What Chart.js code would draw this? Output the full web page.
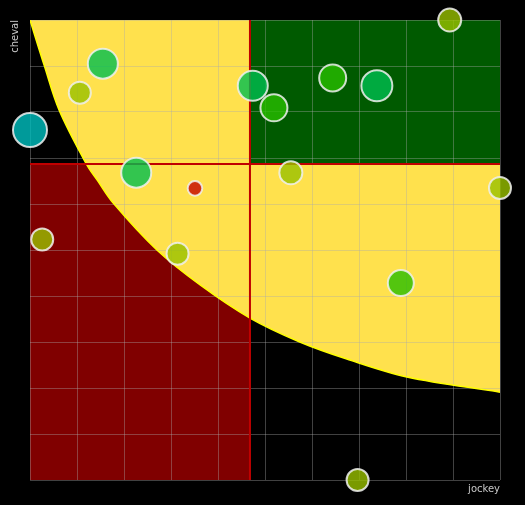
<!DOCTYPE html>
<html><head><meta charset="utf-8">
<script src="https://cdn.jsdelivr.net/npm/chart.js@4/dist/chart.umd.min.js"></script>
<style>html,body{margin:0;padding:0;background:#000;}canvas{display:block;background:#000;}</style>
</head><body>
<canvas id="c" width="525" height="505"></canvas>
<script>
// ---- data ----
const jockeyScores = [0, 1.55, 1.06, 2.26, 3.51, 3.14, 0.26, 4.74, 5.19, 6.44, 7.38, 8.93, 5.55, 10, 7.89, 6.97];
const chevalScores = [7.61, 9.05, 8.42, 6.68, 6.34, 4.92, 5.23, 8.57, 8.09, 8.74, 8.57, 10, 6.68, 6.35, 4.28, 0];
const bubbleSizes  = [17, 15, 11, 15, 7.3, 11, 11, 15, 13.5, 13.5, 15.5, 11.5, 11.5, 11, 13, 11];
const pointGroups  = ['teal','green','olive','green','red','olive','olive','green','lime','lime','green','olive','olive','olive','lime','olive'];

const curveJockey = [0, 0.30, 0.62, 1.21, 1.43, 1.77, 2.70, 3.62, 4.68, 5.74, 6.74, 8.02, 10];
const curveCheval = [10, 9.02, 8.04, 6.85, 6.52, 6.02, 5.00, 4.24, 3.52, 3.00, 2.63, 2.24, 1.91];

const thresholdJockey = 4.68;
const thresholdCheval = 6.87;
const axisMin = 0, axisMax = 10;

// ---- styles ----
const groupColors = {
  teal:  'rgba(0,192,192,0.8)',
  green: 'rgba(0,190,80,0.8)',
  lime:  'rgba(40,190,0,0.8)',
  olive: 'rgba(153,193,0,0.8)',
  red:   'rgba(196,4,0,0.8)'
};
const gridColor = 'rgba(170,170,170,0.38)';
const titleFont = {family: 'DejaVu Sans', size: 10};

const bubbles = jockeyScores.map((x, i) => ({x: x, y: chevalScores[i], r: bubbleSizes[i]}));
const curve = curveJockey.map((x, i) => ({x: x, y: curveCheval[i]}));

new Chart(document.getElementById('c'), {
  type: 'scatter',
  data: {
    datasets: [
      { type: 'bubble', data: bubbles, order: 0, clip: false,
        backgroundColor: pointGroups.map(g => groupColors[g]),
        borderColor: 'rgba(240,240,240,0.85)', borderWidth: 2, hoverBorderWidth: 2 },
      { type: 'line', data: [{x: thresholdJockey, y: axisMin}, {x: thresholdJockey, y: axisMax}], order: 1,
        borderColor: '#c00000', borderWidth: 2, pointRadius: 0, pointHoverRadius: 0, fill: false },
      { type: 'line', data: [{x: axisMin, y: thresholdCheval}, {x: axisMax, y: thresholdCheval}], order: 2,
        borderColor: '#c00000', borderWidth: 2, pointRadius: 0, pointHoverRadius: 0, fill: false },
      { type: 'line', data: [{x: thresholdJockey, y: axisMax}, {x: axisMax, y: axisMax}], order: 3,
        borderColor: 'rgba(0,0,0,0)', borderWidth: 1, pointRadius: 0, pointHoverRadius: 0,
        backgroundColor: '#005a00', fill: {value: thresholdCheval} },
      { type: 'line', data: curve, order: 4, tension: 0.35,
        borderColor: '#ffff00', borderWidth: 1.5, pointRadius: 0, pointHoverRadius: 0,
        backgroundColor: '#ffe14d', fill: 'end' },
      { type: 'line', data: [{x: axisMin, y: thresholdCheval}, {x: thresholdJockey, y: thresholdCheval}], order: 5,
        borderColor: 'rgba(0,0,0,0)', borderWidth: 1, pointRadius: 0, pointHoverRadius: 0,
        backgroundColor: '#800000', fill: 'start' }
    ]
  },
  options: {
    responsive: false,
    animation: false,
    devicePixelRatio: 1,
    events: [],
    layout: {padding: {top: 20, right: 25, left: 0, bottom: 0}, autoPadding: false},
    plugins: {
      legend: {display: false},
      tooltip: {enabled: false},
      filler: {drawTime: 'beforeDraw'}
    },
    scales: {
      x: {
        type: 'linear', min: axisMin, max: axisMax,
        ticks: {display: false, stepSize: 1},
        grid: {color: gridColor, lineWidth: 1, drawTicks: false},
        border: {display: false},
        title: {display: true, text: 'jockey', align: 'end', color: '#c8c8c8', font: titleFont, padding: {top: 3, bottom: 10}}
      },
      y: {
        type: 'linear', min: axisMin, max: axisMax,
        ticks: {display: false, stepSize: 1},
        grid: {color: gridColor, lineWidth: 1, drawTicks: false},
        border: {display: false},
        title: {display: true, text: 'cheval', align: 'end', color: '#c8c8c8', font: titleFont, padding: {top: 9, bottom: 9}}
      }
    }
  }
});
</script>
</body></html>
